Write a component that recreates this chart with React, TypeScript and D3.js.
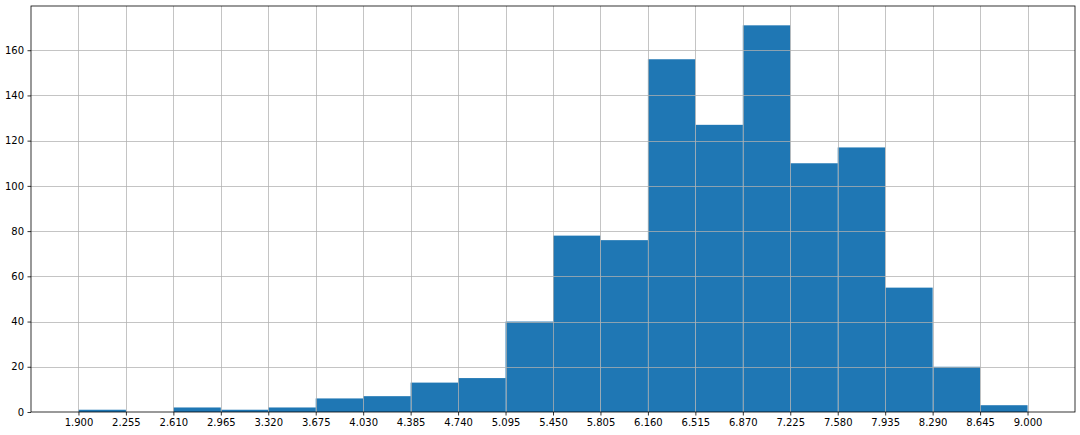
import React, { useEffect, useRef } from 'react'
import * as d3 from 'd3'

const binEdges = [1.9, 2.255, 2.61, 2.965, 3.32, 3.675, 4.03, 4.385, 4.74, 5.095, 5.45, 5.805, 6.16, 6.515, 6.87, 7.225, 7.58, 7.935, 8.29, 8.645, 9.0]
const counts = [1, 0, 2, 1, 2, 6, 7, 13, 15, 40, 78, 76, 156, 127, 171, 110, 117, 55, 20, 3]
const yTicks = [0, 20, 40, 60, 80, 100, 120, 140, 160]

export default function App() {
  const svgRef = useRef<SVGSVGElement>(null)

  useEffect(() => {
    if (!svgRef.current) return
    const svg = d3.select(svgRef.current)
    svg.selectAll('*').remove()

    const width = 1080
    const height = 435
    const margin = { top: 6, right: 5, bottom: 23, left: 31 }
    const lo = binEdges[0]
    const hi = binEdges[binEdges.length - 1]
    const pad = (hi - lo) * 0.05

    const x = d3.scaleLinear()
      .domain([lo - pad, hi + pad])
      .range([margin.left, width - margin.right])
    const y = d3.scaleLinear()
      .domain([0, d3.max(counts)! * 1.05])
      .range([height - margin.bottom, margin.top])

    // bars
    svg.append('g')
      .selectAll('rect')
      .data(counts)
      .enter()
      .append('rect')
      .attr('x', (_, i) => x(binEdges[i]))
      .attr('width', (_, i) => x(binEdges[i + 1]) - x(binEdges[i]))
      .attr('y', d => y(d))
      .attr('height', d => y(0) - y(d))
      .attr('fill', '#1f77b4')

    // grid on top of bars
    const snap = (v: number) => Math.round(v) + 0.5
    const grid = svg.append('g')
      .attr('stroke', '#b0b0b0')
      .attr('stroke-opacity', 0.75)
      .attr('stroke-width', 1)
      .attr('shape-rendering', 'crispEdges')
    grid.selectAll('.vg')
      .data(binEdges)
      .enter()
      .append('line')
      .attr('x1', d => snap(x(d)))
      .attr('x2', d => snap(x(d)))
      .attr('y1', margin.top)
      .attr('y2', height - margin.bottom)
    grid.selectAll('.hg')
      .data(yTicks.slice(1))
      .enter()
      .append('line')
      .attr('x1', margin.left)
      .attr('x2', width - margin.right)
      .attr('y1', d => snap(y(d)))
      .attr('y2', d => snap(y(d)))

    // axes
    const xAxis = svg.append('g')
      .attr('transform', `translate(0,${height - margin.bottom})`)
      .call(d3.axisBottom(x).tickValues(binEdges).tickFormat(d3.format('.3f')).tickSizeOuter(0).tickSize(3.5).tickPadding(3.5))
    const yAxis = svg.append('g')
      .attr('transform', `translate(${margin.left},0)`)
      .call(d3.axisLeft(y).tickValues(yTicks).tickSizeOuter(0).tickSize(3.5).tickPadding(3.5))

    for (const ax of [xAxis, yAxis]) {
      ax.select('.domain').remove()
      ax.selectAll('text')
        .attr('font-family', 'DejaVu Sans')
        .attr('font-size', 10)
        .attr('fill', '#000')
      ax.selectAll('line').attr('stroke', '#000').attr('stroke-width', 0.8)
    }

    // spines
    svg.append('rect')
      .attr('x', margin.left)
      .attr('y', margin.top)
      .attr('width', width - margin.left - margin.right)
      .attr('height', height - margin.top - margin.bottom)
      .attr('fill', 'none')
      .attr('stroke', '#000')
      .attr('stroke-width', 0.8)
  }, [])

  return (
    <svg
      ref={svgRef}
      width={1080}
      height={435}
      style={{ position: 'absolute', left: 0, top: 0, background: '#fff' }}
    />
  )
}
